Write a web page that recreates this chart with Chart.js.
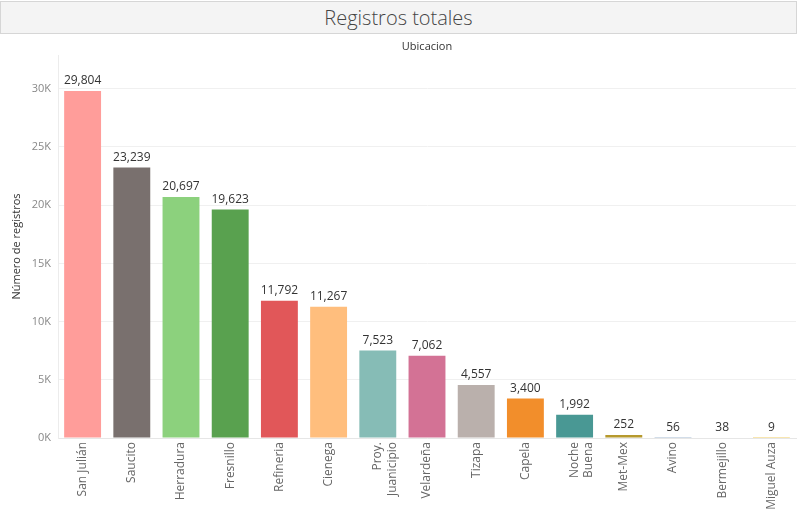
<!DOCTYPE html>
<html>
<head>
<meta charset="utf-8">
<script src="https://cdn.jsdelivr.net/npm/chart.js@4.4.1/dist/chart.umd.min.js"></script>
<style>
  html, body { margin: 0; padding: 0; background: #fff; }
  body { width: 797px; height: 512px; position: relative; overflow: hidden; font-family: "Open Sans", sans-serif; }
  #title {
    position: absolute; left: 0; top: 1px; width: 795px; height: 31px;
    background: #f4f4f4; border: 1px solid #d6d6d6;
    text-align: center; line-height: 31px; font-size: 20px; font-weight: 300; color: #444;
  }
  #wrap { position: absolute; left: 0; top: 34px; width: 797px; height: 478px; }
</style>
</head>
<body>
<div id="title">Registros totales</div>
<div id="wrap"><canvas id="c"></canvas></div>
<script>
const categories = ['San Julián', 'Saucito', 'Herradura', 'Fresnillo', 'Refineria', 'Cienega', ['Proy.', 'Juanicipio'], 'Velardeña', 'Tizapa', 'Capela', ['Noche', 'Buena'], 'Met-Mex', 'Avino', 'Bermejillo', 'Miguel Auza'];
const values = [29804, 23239, 20697, 19623, 11792, 11267, 7523, 7062, 4557, 3400, 1992, 252, 56, 38, 9];
const colors = ['#FF9D9A', '#79706E', '#8CD17D', '#59A14F', '#E15759', '#FFBE7D', '#86BCB6', '#D37295', '#BAB0AC', '#F28E2B', '#499894', '#B6992D', '#4E79A7', '#A0CBE8', '#F1CE63'];
const yTicks = [0, 5000, 10000, 15000, 20000, 25000, 30000];

const valueLabels = {
  id: 'valueLabels',
  afterDatasetsDraw(chart) {
    const ctx = chart.ctx;
    const meta = chart.getDatasetMeta(0);
    ctx.save();
    ctx.font = '12px "Open Sans", sans-serif';
    ctx.fillStyle = '#333';
    ctx.textAlign = 'center';
    ctx.textBaseline = 'bottom';
    meta.data.forEach((bar, i) => {
      ctx.fillText(values[i].toLocaleString('en-US'), bar.x, bar.y - 4);
    });
    ctx.restore();
  }
};

new Chart(document.getElementById('c'), {
  type: 'bar',
  data: {
    labels: categories,
    datasets: [{
      data: values,
      backgroundColor: colors,
      barPercentage: 0.75,
      categoryPercentage: 1.0,
      minBarLength: 0
    }]
  },
  options: {
    responsive: true,
    maintainAspectRatio: false,
    animation: false,
    layout: { padding: { left: 0, right: 1, top: 0, bottom: 0 } },
    plugins: { legend: { display: false }, tooltip: { enabled: false }, title: { display: false } },
    scales: {
      x: {
        position: 'bottom',
        grid: { display: false, drawTicks: false },
        border: { display: true, color: '#e6e6e6' },
        ticks: {
          autoSkip: false, maxRotation: 90, minRotation: 90, padding: 4,
          color: '#666', font: { family: '"Open Sans", sans-serif', size: 12 }
        },
        afterFit(s) { s.height = 74; }
      },
      xTop: {
        type: 'category',
        position: 'top',
        labels: categories,
        grid: { display: false, drawTicks: false },
        border: { display: false },
        ticks: { display: false },
        title: { display: true, text: 'Ubicacion', color: '#333', font: { family: '"Open Sans", sans-serif', size: 11 }, padding: { top: 6, bottom: 0 } },
        afterFit(s) { s.height = 21; }
      },
      y: {
        min: 0,
        max: 32900,
        afterBuildTicks(s) { s.ticks = yTicks.map(v => ({ value: v })); },
        grid: { color: '#f0f0f0', drawTicks: false },
        border: { display: true, color: '#ececec' },
        ticks: {
          padding: 7, color: '#888',
          font: { family: '"Open Sans", sans-serif', size: 11 },
          callback: (v) => (v / 1000) + 'K'
        },
        title: { display: true, text: 'Número de registros', color: '#333', font: { family: '"Open Sans", sans-serif', size: 11 }, padding: { top: 10, bottom: 0 } },
        afterFit(s) { s.width = 58; }
      }
    }
  },
  plugins: [valueLabels]
});
</script>
</body>
</html>
